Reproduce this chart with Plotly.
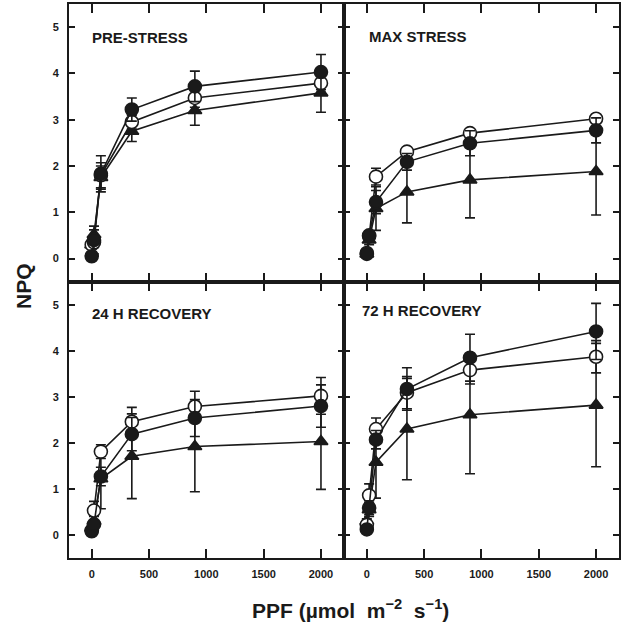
import plotly.graph_objects as go

# ---- data ----
ppf = [0, 20, 80, 350, 900, 2000]
panel_titles = ["PRE-STRESS", "MAX STRESS", "24 H RECOVERY", "72 H RECOVERY"]

pre_filled = [0.05, 0.40, 1.83, 3.22, 3.72, 4.03]
pre_filled_err = [0.05, 0.30, 0.39, 0.25, 0.33, 0.38]
pre_open = [0.30, 0.35, 1.80, 2.95, 3.47, 3.79]
pre_open_err = [0.05, 0.10, 0.27, 0.15, 0.20, 0.20]
pre_tri = [0.30, 0.52, 1.75, 2.75, 3.20, 3.58]
pre_tri_err = [0.05, 0.10, 0.25, 0.22, 0.32, 0.42]

max_filled = [0.10, 0.50, 1.22, 2.09, 2.49, 2.77]
max_filled_err = [0.03, 0.10, 0.25, 0.18, 0.27, 0.27]
max_open = [0.12, 0.48, 1.77, 2.31, 2.71, 3.02]
max_open_err = [0.03, 0.08, 0.18, 0.08, 0.08, 0.08]
max_tri = [0.10, 0.40, 1.08, 1.44, 1.70, 1.88]
max_tri_err = [0.03, 0.10, 0.47, 0.67, 0.82, 0.94]

r24_filled = [0.08, 0.23, 1.27, 2.19, 2.54, 2.80]
r24_filled_err = [0.03, 0.10, 0.20, 0.36, 0.40, 0.46]
r24_open = [0.10, 0.53, 1.81, 2.46, 2.79, 3.02]
r24_open_err = [0.03, 0.20, 0.15, 0.31, 0.33, 0.40]
r24_tri = [0.15, 0.30, 1.22, 1.71, 1.92, 2.03]
r24_tri_err = [0.03, 0.10, 0.65, 0.92, 0.98, 1.04]

r72_filled = [0.12, 0.59, 2.07, 3.17, 3.85, 4.42]
r72_filled_err = [0.05, 0.15, 0.20, 0.46, 0.51, 0.61]
r72_open = [0.22, 0.86, 2.30, 3.09, 3.58, 3.87]
r72_open_err = [0.05, 0.25, 0.24, 0.35, 0.30, 0.35]
r72_tri = [0.30, 0.55, 1.58, 2.30, 2.61, 2.82]
r72_tri_err = [0.05, 0.15, 0.78, 1.10, 1.28, 1.34]

x_ticks = [0, 500, 1000, 1500, 2000]
y_ticks = [0, 1, 2, 3, 4, 5]

panels = [
    (pre_filled, pre_filled_err, pre_open, pre_open_err, pre_tri, pre_tri_err),
    (max_filled, max_filled_err, max_open, max_open_err, max_tri, max_tri_err),
    (r24_filled, r24_filled_err, r24_open, r24_open_err, r24_tri, r24_tri_err),
    (r72_filled, r72_filled_err, r72_open, r72_open_err, r72_tri, r72_tri_err),
]

W, H = 621, 625
INK = "#1a1a1a"
FONT = "Liberation Sans, Arial, sans-serif"

# domains (pixel based)
xdoms = [[69 / W, 345 / W], [345 / W, 1.0]]
ydoms = [[1 - 281.7 / H, 1 - 4 / H], [1 - 558 / H, 1 - 281.7 / H]]

fig = go.Figure()

for i, (fy, fe, oy, oe, ty, te) in enumerate(panels):
    ax = "" if i == 0 else str(i + 1)
    xa, ya = "x" + ax, "y" + ax
    series = [
        (ty, te, "triangle-up", INK),
        (oy, oe, "circle", "white"),
        (fy, fe, "circle", INK),
    ]
    for yv, ev, sym, fill in series:
        fig.add_trace(go.Scatter(
            x=ppf, y=yv, xaxis=xa, yaxis=ya, mode="lines+markers",
            line=dict(color=INK, width=1.6),
            marker=dict(symbol=sym, size=13 if sym == "circle" else 12,
                        color=fill, line=dict(color=INK, width=1.6)),
            error_y=dict(type="data", array=ev, visible=True, color=INK,
                         thickness=1.6, width=5),
            showlegend=False, cliponaxis=False,
        ))

    col = i % 2
    row = i // 2
    xkey = "xaxis" + ax
    ykey = "yaxis" + ax
    fig.layout[xkey] = dict(
        domain=xdoms[col], anchor=ya, range=[-200, 2200],
        tickvals=x_ticks, showticklabels=(row == 1),
        ticks="inside", ticklen=9, tickwidth=1.6, tickcolor=INK,
        showline=True, linecolor=INK, linewidth=1.6, mirror="ticks",
        showgrid=False, zeroline=False,
        tickfont=dict(family=FONT, size=11, color=INK, weight="bold"),
        ticklabelstandoff=5,
    )
    fig.layout[ykey] = dict(
        domain=ydoms[row], anchor=xa, range=[-0.5, 5.5],
        tickvals=y_ticks, showticklabels=(col == 0),
        ticks="inside", ticklen=6, tickwidth=1.6, tickcolor=INK,
        showline=True, linecolor=INK, linewidth=1.6, mirror="ticks",
        showgrid=False, zeroline=False,
        tickfont=dict(family=FONT, size=11, color=INK, weight="bold"),
        ticklabelstandoff=6,
    )

label_pos = [(-12, 4.78), (0, 4.80), (-12, 4.80), (-60, 4.87)]
for i, title in enumerate(panel_titles):
    ax = "" if i == 0 else str(i + 1)
    lx, ly = label_pos[i]
    fig.add_annotation(
        x=lx, y=ly, xref="x" + ax, yref="y" + ax, text=title,
        showarrow=False, xanchor="left", yanchor="middle",
        font=dict(family=FONT, size=15, color=INK, weight="bold"),
    )

fig.add_annotation(
    x=23 / W, y=1 - 286 / H, xref="paper", yref="paper", text="NPQ",
    textangle=-90, showarrow=False, xanchor="center", yanchor="middle",
    font=dict(family=FONT, size=21, color=INK, weight="bold"),
)
fig.add_annotation(
    x=352 / W, y=1 - 609 / H, xref="paper", yref="paper",
    text="PPF (µmol&nbsp; m<sup>−2</sup>&nbsp; s<sup>−1</sup>)",
    showarrow=False, xanchor="center", yanchor="middle",
    font=dict(family=FONT, size=21, color=INK, weight="bold"),
)

fig.update_layout(
    width=W, height=H, margin=dict(l=0, r=0, t=0, b=0),
    paper_bgcolor="white", plot_bgcolor="white",
)

fig.write_html("out.html")
